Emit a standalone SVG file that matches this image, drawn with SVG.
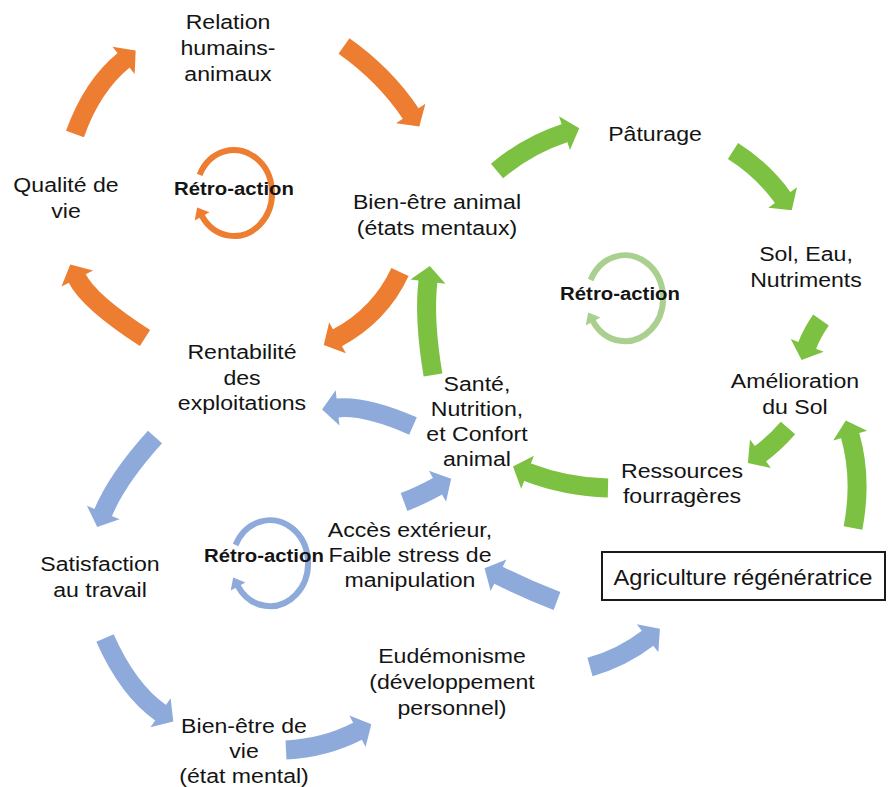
<svg xmlns="http://www.w3.org/2000/svg" width="891" height="787" viewBox="0 0 891 787">
<style>
.t{font-family:"Liberation Sans",Arial,sans-serif;font-size:21px;fill:#141414;text-anchor:middle}
.b{font-family:"Liberation Sans",Arial,sans-serif;font-size:18.5px;font-weight:bold;fill:#141414;text-anchor:middle}
.ao{fill:none;stroke:#ED7D31;stroke-width:19;marker-end:url(#ho)}
.ag{fill:none;stroke:#7DC143;stroke-width:19;marker-end:url(#hg)}
.ab{fill:none;stroke:#8EAADB;stroke-width:19;marker-end:url(#hb)}
.ring{fill:none;stroke-width:6}
</style>
<defs>
<marker id="ho" markerWidth="1" markerHeight="2" refX="0.03" refY="1" orient="auto" overflow="visible"><path d="M0,0.07 L0.82,1 L0,1.93 Z" fill="#ED7D31"/></marker>
<marker id="hg" markerWidth="1" markerHeight="2" refX="0.03" refY="1" orient="auto" overflow="visible"><path d="M0,0.07 L0.82,1 L0,1.93 Z" fill="#7DC143"/></marker>
<marker id="hb" markerWidth="1" markerHeight="2" refX="0.03" refY="1" orient="auto" overflow="visible"><path d="M0,0.07 L0.82,1 L0,1.93 Z" fill="#8EAADB"/></marker>
<marker id="ro" markerWidth="2" markerHeight="3" refX="0.1" refY="1.5" orient="auto" overflow="visible"><path d="M0,0.1 L1.7,1.5 L0,2.9 Z" fill="#ED7D31"/></marker>
<marker id="rg" markerWidth="2" markerHeight="3" refX="0.1" refY="1.5" orient="auto" overflow="visible"><path d="M0,0.1 L1.7,1.5 L0,2.9 Z" fill="#A9D08E"/></marker>
<marker id="rb" markerWidth="2" markerHeight="3" refX="0.1" refY="1.5" orient="auto" overflow="visible"><path d="M0,0.1 L1.7,1.5 L0,2.9 Z" fill="#8EAADB"/></marker>
</defs>
<rect width="891" height="787" fill="#fff"/>
<g id="connectors">
<path class="ao" d="M75 134 Q92 86 124 60"/>
<path class="ao" d="M344 46 Q385 75 411 114"/>
<path class="ao" d="M400 272 Q380 315 337 338"/>
<path class="ao" d="M145 338 Q89 302 77 278"/>
<path class="ab" d="M413 426 Q365 405 337 408"/>
<path class="ab" d="M155 437 Q117 479 103 513"/>
<path class="ab" d="M105 638 Q128 690 161 713"/>
<path class="ab" d="M286 750 Q325 748 358 731"/>
<path class="ab" d="M590 667 Q622 658 648 638"/>
<path class="ab" d="M557 601 Q528 590 498 575"/>
<path class="ab" d="M404 502 Q420 496 438 486"/>
<path class="ag" d="M497 171 Q528 145 565 133"/>
<path class="ag" d="M733 151 Q763 170 783 198"/>
<path class="ag" d="M821 320 Q812 333 807 346"/>
<path class="ag" d="M788 428 Q775 443 760 454"/>
<path class="ag" d="M608 488 Q566 487 527 472"/>
<path class="ag" d="M433 375 Q423.5 318 428 281"/>
<path class="ag" d="M853 528 Q862.5 478.5 850 435"/>
<path class="ring" stroke="#ED7D31" marker-end="url(#ro)" d="M199.6 174.8 A38 43 0 1 1 201.8 215.8"/>
<path class="ring" stroke="#A9D08E" marker-end="url(#rg)" d="M590.6 280 A38 43 0 1 1 592.8 321"/>
<path class="ring" stroke="#8EAADB" marker-end="url(#rb)" d="M235.6 545 A38 43 0 1 1 237.8 586"/>
</g>
<g id="relation"><text class="t" transform="scale(1.1,1)" x="207.27"><tspan x="207.27" y="29">Relation</tspan><tspan x="207.27" y="55">humains-</tspan><tspan x="207.27" y="81">animaux</tspan></text></g>
<g id="qualite"><text class="t" transform="scale(1.1,1)"><tspan x="60" y="192">Qualité de</tspan><tspan x="60" y="218">vie</tspan></text></g>
<g id="retro-orange"><text class="b" transform="scale(1.1,1)" x="212.73" y="195">Rétro-action</text></g>
<g id="bienetre-animal"><text class="t" transform="scale(1.1,1)"><tspan x="397.27" y="209">Bien-être animal</tspan><tspan x="397.27" y="235">(états mentaux)</tspan></text></g>
<g id="paturage"><text class="t" transform="scale(1.1,1)" x="595.45" y="141">Pâturage</text></g>
<g id="sol-eau"><text class="t" transform="scale(1.1,1)"><tspan x="732.73" y="261">Sol, Eau,</tspan><tspan x="732.73" y="287">Nutriments</tspan></text></g>
<g id="retro-green"><text class="b" transform="scale(1.1,1)" x="563.64" y="300">Rétro-action</text></g>
<g id="amelioration"><text class="t" transform="scale(1.1,1)"><tspan x="722.73" y="388">Amélioration</tspan><tspan x="722.73" y="414">du Sol</tspan></text></g>
<g id="rentabilite"><text class="t" transform="scale(1.1,1)"><tspan x="220" y="359">Rentabilité</tspan><tspan x="220" y="385">des</tspan><tspan x="220" y="410">exploitations</tspan></text></g>
<g id="sante"><text class="t" transform="scale(1.1,1)"><tspan x="433.64" y="391">Santé,</tspan><tspan x="433.64" y="416">Nutrition,</tspan><tspan x="433.64" y="441">et Confort</tspan><tspan x="433.64" y="466">animal</tspan></text></g>
<g id="ressources"><text class="t" transform="scale(1.1,1)"><tspan x="620" y="478">Ressources</tspan><tspan x="620" y="503">fourragères</tspan></text></g>
<g id="satisfaction"><text class="t" transform="scale(1.1,1)"><tspan x="90.91" y="571">Satisfaction</tspan><tspan x="90.91" y="597">au travail</tspan></text></g>
<g id="retro-blue"><text class="b" transform="scale(1.1,1)" x="240" y="562">Rétro-action</text></g>
<g id="acces"><text class="t" transform="scale(1.1,1)"><tspan x="372.73" y="537">Accès extérieur,</tspan><tspan x="372.73" y="562">Faible stress de</tspan><tspan x="372.73" y="587">manipulation</tspan></text></g>
<g id="agriculture"><rect x="602" y="552" width="283" height="48" fill="#fff" stroke="#1a1a1a" stroke-width="2"/><text class="t" style="font-size:21.5px" transform="scale(1.1,1)" x="675.45" y="585">Agriculture régénératrice</text></g>
<g id="eudemonisme"><text class="t" transform="scale(1.1,1)"><tspan x="410.91" y="663">Eudémonisme</tspan><tspan x="410.91" y="689">(développement</tspan><tspan x="410.91" y="715">personnel)</tspan></text></g>
<g id="bienetre-vie"><text class="t" transform="scale(1.1,1)"><tspan x="221.82" y="733">Bien-être de</tspan><tspan x="221.82" y="758">vie</tspan><tspan x="221.82" y="783">(état mental)</tspan></text></g>
</svg>
